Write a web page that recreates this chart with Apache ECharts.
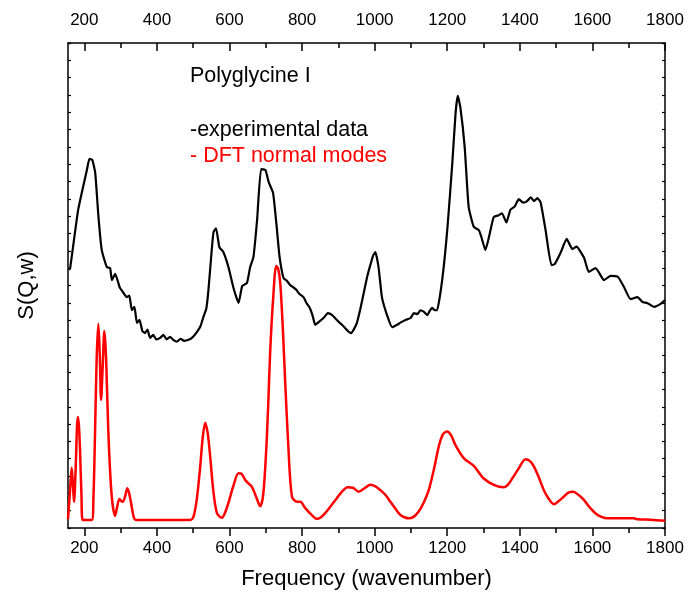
<!DOCTYPE html>
<html>
<head>
<meta charset="utf-8">
<script src="https://cdn.jsdelivr.net/npm/echarts@6/dist/echarts.min.js"></script>
<style>html,body{margin:0;padding:0;background:#fff}#c{width:688px;height:601px}</style>
</head>
<body>
<div id="c"></div>
<script>
// Experimental S(Q,w) (black)
const expX = [158,161,183,207,214,222,230,239,248,262,271,276,285,298,305,317,324,331,338,345,352,360,367,374,381,390,398,409,418,427,436,445,455,465,475,487,498,510,520,528,536,542,551,556,563,572,583,597,611,625,635,648,657,666,676,687,699,708,720,729,738,749,758,767,776,784,792,804,812,821,829,836,848,859,871,883,892,901,910,919,928,935,943,951,960,970,980,988,996,1002,1011,1020,1034,1048,1062,1072,1085,1099,1108,1118,1126,1135,1145,1152,1158,1166,1172,1186,1200,1214,1223,1229,1236,1248,1259,1273,1287,1294,1305,1315,1328,1342,1351,1363,1374,1386,1397,1409,1420,1430,1439,1448,1457,1471,1487,1496,1512,1529,1545,1556,1577,1590,1609,1632,1650,1670,1687,1705,1724,1738,1751,1770,1788,1800];
const expY = [53.2,53.6,65.6,73.8,76.1,75.9,73.2,64.1,57.3,53.8,53.6,51.1,52.4,49.5,48.8,47.6,47.9,44.9,45.6,42.3,42.9,40.6,40.2,40.9,39.2,39.8,38.9,39.2,39.8,38.9,39.4,38.8,38.4,39.0,38.6,38.8,39.3,40.4,41.6,43.5,45.2,49.1,57.3,61.0,61.8,57.9,56.9,53.8,49.5,46.4,49.9,50.5,53.8,55.9,63.5,74.0,73.8,71.3,69.1,62.9,55.9,51.5,51.0,50.1,49.6,49.1,48.3,47.6,46.4,45.4,43.8,41.9,42.6,43.3,44.3,43.9,43.2,42.5,41.9,41.2,40.5,40.2,41.0,42.3,45.0,48.5,52.0,54.2,56.2,56.9,53.6,47.6,43.9,41.4,41.9,42.4,42.9,43.3,44.3,44.1,44.9,44.6,43.9,44.8,45.4,44.9,44.9,51.1,61.4,75.3,85.6,89.1,86.8,78.6,66.2,62.1,61.4,60.0,57.3,60.0,64.1,64.5,64.9,63.0,65.6,66.3,67.8,67.1,67.4,68.2,67.4,68.0,67.2,61.4,54.2,54.4,56.7,59.6,57.5,58.0,55.7,52.8,53.6,51.1,52.0,51.8,49.7,47.2,47.6,46.6,46.4,45.6,46.2,47.0];

// DFT normal modes (red)
const dftX = [155,160,165.2,168.5,171.6,176,181.8,185,188.1,192,195.6,205,220.4,225,229.5,234,238.6,242.5,246.1,250.5,255.2,260,266.2,275,284.7,290,296.6,301,305.9,312,318.6,324,330.8,336,342.6,400,491.6,500.7,510,519.2,526,533,540,546.8,555,565.2,579,588,597.2,610,624.8,633,643.3,652,661.8,673,684.7,693,701.2,707,712.3,720,728.8,734,739.9,747,753.6,762,772.1,785.9,795,808.8,825,841.1,850.2,863,877.8,896.3,910,925.5,940,955.9,972,988.1,1002,1015.7,1030,1043.3,1057,1070.9,1093.8,1107,1121.4,1135,1149,1163,1176.6,1188,1199.7,1210,1222.6,1245.5,1273.1,1300.7,1328.3,1355.8,1368,1379,1397,1415.7,1428,1438.6,1452,1466.2,1480,1493.8,1508,1521.4,1534,1547.3,1562,1576.5,1592,1608.8,1625,1641.1,1680,1714.5,1723.8,1760,1800];
const dftY = [1.8,7,12.4,9,5.4,12,22.9,21.2,16.1,7,1.65,1.65,1.65,6,19.6,35,42.1,36,26.4,33,40.6,35,19.6,7,2.5,4.2,6.0,5.6,5.4,6.4,8.2,7,4.3,2.3,1.65,1.65,1.65,2.3,6,12.6,18.5,21.7,19.5,14.7,8,3.1,2.1,3.2,5.2,8.5,11.3,11.2,9.9,9.2,8.5,6.5,4.5,7,16.1,26,36.7,47,54.0,53.5,50.5,41,29.9,17,6.5,5.4,5.4,4.1,2.8,1.9,2.1,3,4.4,6.2,7.5,8.4,8.3,7.5,8.2,8.9,8.6,7.8,6.8,5.4,4.0,2.7,2.0,2.3,3.4,5.2,7.8,12,16.8,19.3,19.9,19.2,17.1,14.4,12.8,10.2,8.9,8.4,9.0,10.2,12.3,14.2,13.8,12.7,10.5,7.8,6.0,4.9,5.6,6.5,7.3,7.5,6.8,5.8,4.3,3.0,2.3,2.0,2.0,2.0,1.8,1.7,1.5];

// Tick values
const majorTicks = [200,400,600,800,1000,1200,1400,1600,1800];
const minorTicks = [300,500,700,900,1100,1300,1500,1700];
const xMin = 155, xMax = 1800;

const expData = expX.map((x,i)=>[x,expY[i]]);
const dftData = dftX.map((x,i)=>[x,dftY[i]]);

const FONT = 'Liberation Sans, Arial, sans-serif';
const chart = echarts.init(document.getElementById('c'), null, {renderer:'canvas'});

function xAx(pos, showLabel, ticks, len, inside, showLine, labels) {
  return {
    type:'value', position:pos, min:xMin, max:xMax,
    axisLine:{show:showLine, onZero:false, lineStyle:{color:'#000', width:1.5}},
    axisTick:{show:true, inside:inside, length:len, customValues:ticks, lineStyle:{color:'#000', width:1.5}},
    axisLabel:{show:showLabel, customValues:labels || ticks, margin: pos==='top'?14:12, color:'#000', fontSize:17, fontFamily:FONT,
      formatter:(v)=>String(v)},
    splitLine:{show:false}
  };
}

const option = {
  animation:false,
  backgroundColor:'#fff',
  grid:{left:68, right:23, top:43, bottom:73, containLabel:false},
  xAxis:[
    Object.assign(xAx('bottom', true, majorTicks, 8, false, true), {
      name:'Frequency (wavenumber)', nameLocation:'middle', nameGap:40,
      nameTextStyle:{fontSize:22, fontFamily:FONT, color:'#000'}
    }),
    xAx('top', true, majorTicks, 8, true, true),
    xAx('bottom', false, minorTicks, 5, false, false),
    xAx('top', false, minorTicks, 5, true, false)
  ],
  yAxis:[
    {type:'value', position:'left', min:0, max:100, interval:100/28,
     name:'S(Q,w)', nameLocation:'middle', nameGap:30,
     nameTextStyle:{fontSize:22, fontFamily:FONT, color:'#000'},
     axisLine:{show:true, onZero:false, lineStyle:{color:'#000', width:1.5}},
     axisTick:{show:true, inside:true, length:3, lineStyle:{color:'#000', width:1.2}},
     axisLabel:{show:false}, splitLine:{show:false}},
    {type:'value', position:'right', min:0, max:100, interval:100/28,
     axisLine:{show:true, onZero:false, lineStyle:{color:'#000', width:1.5}},
     axisTick:{show:true, inside:true, length:3, lineStyle:{color:'#000', width:1.2}},
     axisLabel:{show:false}, splitLine:{show:false}}
  ],
  series:[
    {type:'line', name:'experimental data', data:expData, xAxisIndex:0, yAxisIndex:0,
     showSymbol:false, smooth:0.15, lineStyle:{color:'#000', width:2.2}, z:3},
    {type:'line', name:'DFT normal modes', data:dftData, xAxisIndex:0, yAxisIndex:0,
     showSymbol:false, smooth:0.3, lineStyle:{color:'#ff0000', width:2.5}, z:4}
  ],
  graphic:[
    {type:'text', left:190, top:65, style:{text:'Polyglycine I', fill:'#000', font:'21.5px '+FONT}},
    {type:'text', left:190, top:119, style:{text:'-experimental data', fill:'#000', font:'21.5px '+FONT}},
    {type:'text', left:190, top:145, style:{text:'- DFT normal modes', fill:'#ff0000', font:'21.5px '+FONT}}
  ]
};
chart.setOption(option);
</script>
</body>
</html>
